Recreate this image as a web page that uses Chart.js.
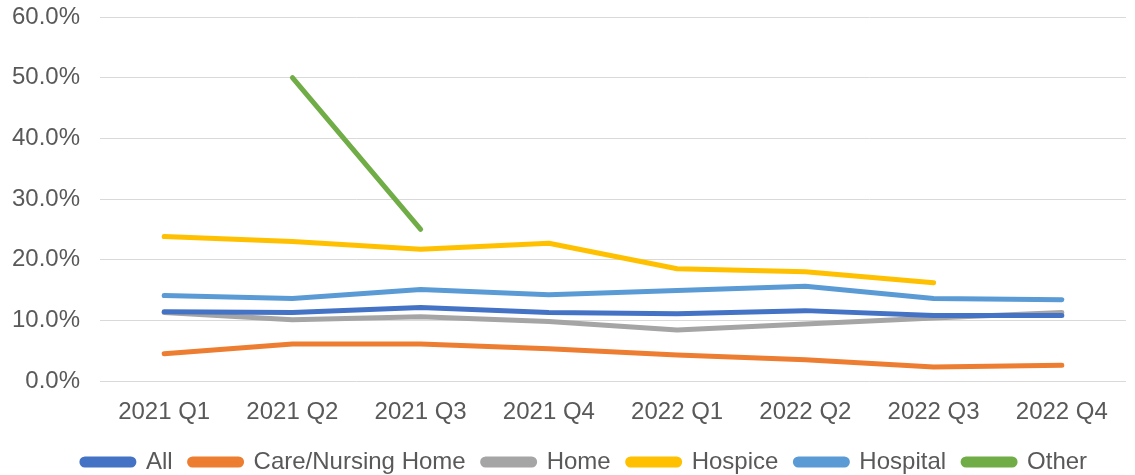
<!DOCTYPE html>
<html>
<head>
<meta charset="utf-8">
<script src="https://cdn.jsdelivr.net/npm/chart.js@4"></script>
<style>
  html, body { margin: 0; padding: 0; background: #fff; }
  #wrap { width: 1135px; height: 475px; }
</style>
</head>
<body>
<div id="wrap"><canvas id="myChart"></canvas></div>
<script>
const quarters = ['2021 Q1', '2021 Q2', '2021 Q3', '2021 Q4', '2022 Q1', '2022 Q2', '2022 Q3', '2022 Q4'];
const allPlaces = [0.114, 0.113, 0.121, 0.113, 0.111, 0.116, 0.108, 0.108];
const careHome = [0.045, 0.061, 0.061, 0.053, 0.043, 0.035, 0.023, 0.026];
const home = [0.113, 0.101, 0.106, 0.098, 0.084, 0.094, 0.104, 0.113];
const hospice = [0.238, 0.230, 0.217, 0.227, 0.185, 0.180, 0.162, null];
const hospital = [0.141, 0.136, 0.151, 0.142, 0.149, 0.156, 0.136, 0.134];
const other = [null, 0.50, 0.25, null, null, null, null, null];
const yTicks = [0, 0.1, 0.2, 0.3, 0.4, 0.5, 0.6];

const textColor = '#595959';
const fontFamily = '"Liberation Sans", Arial, sans-serif';

function serie(label, data, color) {
  return {
    label: label,
    data: data,
    borderColor: color,
    backgroundColor: color,
    borderWidth: 5,
    borderCapStyle: 'round',
    borderJoinStyle: 'round',
    pointRadius: 0,
    pointHoverRadius: 0,
    tension: 0,
    spanGaps: false
  };
}

// decale la legende un peu vers la droite, comme dans l'original
const legendShift = {
  id: 'legendShift',
  afterLayout(chart) {
    chart.legend.left += 22;
    chart.legend.right += 22;
  }
};

const ctx = document.getElementById('myChart').getContext('2d');
new Chart(ctx, {
  type: 'line',
  data: {
    labels: quarters,
    datasets: [
      serie('All', allPlaces, '#4472c4'),
      serie('Care/Nursing Home', careHome, '#ed7d31'),
      serie('Home', home, '#a5a5a5'),
      serie('Hospice', hospice, '#ffc000'),
      serie('Hospital', hospital, '#5b9bd5'),
      serie('Other', other, '#70ad47')
    ]
  },
  plugins: [legendShift],
  options: {
    responsive: true,
    maintainAspectRatio: false,
    animation: false,
    layout: { padding: { top: 17, right: 2, left: -8, bottom: -9 } },
    plugins: {
      tooltip: { enabled: false },
      legend: {
        position: 'bottom',
        labels: {
          color: textColor,
          font: { family: fontFamily, size: 24, lineHeight: 1 },
          boxWidth: 52,
          boxHeight: 6,
          useBorderRadius: true,
          borderRadius: 3,
          padding: 17
        }
      }
    },
    scales: {
      x: {
        offset: true,
        grid: { display: false, drawTicks: false },
        border: { display: false },
        afterFit: s => { s.height = 52; },
        ticks: {
          color: textColor,
          font: { family: fontFamily, size: 24, lineHeight: 0.3667 },
          padding: 27,
          maxRotation: 0
        }
      },
      y: {
        min: 0,
        max: 0.6,
        afterBuildTicks: axis => { axis.ticks = yTicks.map(v => ({ value: v })); },
        afterFit: s => { s.paddingTop = 0; s.paddingBottom = 0; },
        grid: { color: '#d9d9d9', lineWidth: 1, drawTicks: false },
        border: { display: false },
        ticks: {
          color: textColor,
          font: { family: fontFamily, size: 24 },
          padding: 20,
          callback: v => (v * 100).toFixed(1) + '%'
        }
      }
    }
  }
});
</script>
</body>
</html>
